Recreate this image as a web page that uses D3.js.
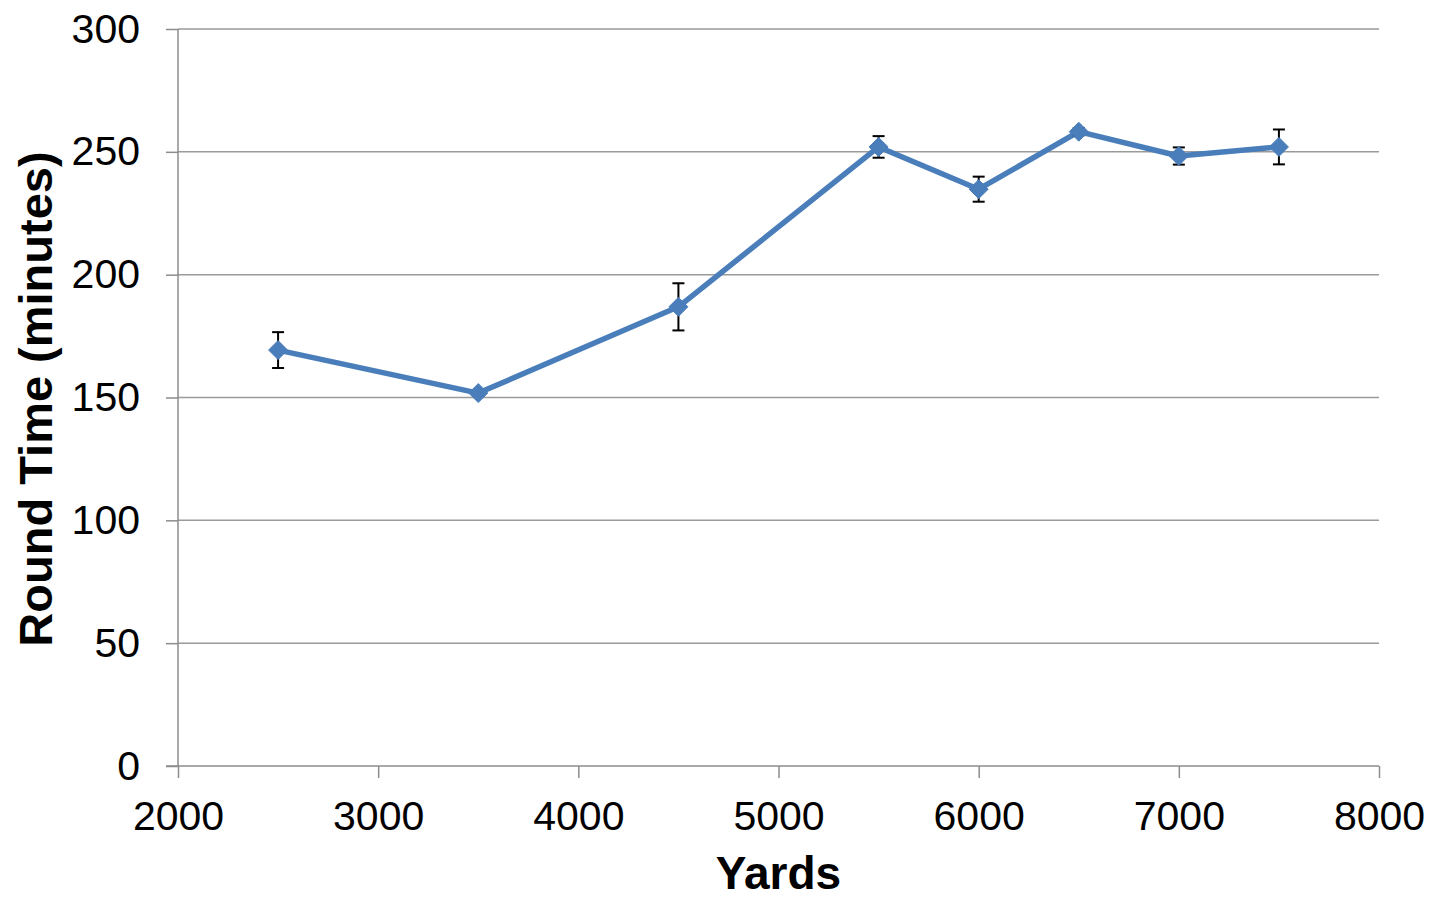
<!DOCTYPE html>
<html><head><meta charset="utf-8">
<script src="https://cdn.jsdelivr.net/npm/d3@7"></script>
<style>body{margin:0;background:#fff}svg{display:block}text{font-family:"Liberation Sans",Arial,sans-serif}</style>
</head><body>
<svg id="c" width="1432" height="898"></svg>
<script>
const yards = [2500, 3500, 4500, 5500, 6000, 6500, 7000, 7500];
const roundTime = [169.3, 151.8, 186.9, 252, 234.8, 258.2, 248.3, 252];
const errors = [7.3, 1, 9.6, 4.4, 5.1, 1.5, 3.5, 7.1];
const xTicks = [2000, 3000, 4000, 5000, 6000, 7000, 8000];
const yTicks = [0, 50, 100, 150, 200, 250, 300];
const xTitle = "Yards";
const yTitle = "Round Time (minutes)";

const svg = d3.select("#c");
const L = 178, R = 1379, T = 29, B = 766;
const x = d3.scaleLinear().domain([2000, 8000]).range([L, R]);
const y = d3.scaleLinear().domain([0, 300]).range([B, T]);

// gridlines
svg.append("g").selectAll("line").data(yTicks.filter(d => d > 0)).join("line")
  .attr("x1", L).attr("x2", R).attr("y1", d => y(d)).attr("y2", d => y(d))
  .attr("stroke", "#9a9a9a").attr("stroke-width", 1.5);

// y axis
const ya = svg.append("g").attr("transform", `translate(${L},0)`)
  .call(d3.axisLeft(y).tickValues(yTicks).tickSize(12).tickPadding(26));
ya.select(".domain").attr("stroke", "#8c8c8c").attr("stroke-width", 1.5).attr("d", `M0,${T}V${B}`);
ya.selectAll(".tick line").attr("stroke", "#8c8c8c").attr("stroke-width", 1.5);
ya.selectAll(".tick text").attr("font-size", 41).attr("fill", "#000").attr("font-family", "Liberation Sans, Arial, sans-serif");

// x axis
const xa = svg.append("g").attr("transform", `translate(0,${B})`)
  .call(d3.axisBottom(x).tickValues(xTicks).tickFormat(d3.format("d")).tickSize(12).tickPadding(23));
xa.select(".domain").attr("stroke", "#8c8c8c").attr("stroke-width", 1.5).attr("d", `M${L - 12},0H${R}`);
xa.selectAll(".tick line").attr("stroke", "#8c8c8c").attr("stroke-width", 1.5);
xa.selectAll(".tick text").attr("font-size", 41).attr("fill", "#000").attr("font-family", "Liberation Sans, Arial, sans-serif");

const data = yards.map((d, i) => ({x: d, y: roundTime[i], e: errors[i]}));

// line
svg.append("path").datum(data)
  .attr("d", d3.line().x(d => x(d.x)).y(d => y(d.y)))
  .attr("fill", "none").attr("stroke", "#4a7ebb").attr("stroke-width", 5.5).attr("stroke-linejoin", "round");

// error bars
const eb = svg.append("g").attr("stroke", "#000").attr("stroke-width", 2);
data.forEach(d => {
  const cx = x(d.x);
  eb.append("line").attr("x1", cx).attr("x2", cx).attr("y1", y(d.y - d.e)).attr("y2", y(d.y + d.e));
  eb.append("line").attr("x1", cx - 6).attr("x2", cx + 6).attr("y1", y(d.y - d.e)).attr("y2", y(d.y - d.e));
  eb.append("line").attr("x1", cx - 6).attr("x2", cx + 6).attr("y1", y(d.y + d.e)).attr("y2", y(d.y + d.e));
});

// markers
svg.append("g").selectAll("path").data(data).join("path")
  .attr("transform", d => `translate(${x(d.x)},${y(d.y)})`)
  .attr("d", "M0,-9.5L9.5,0L0,9.5L-9.5,0Z").attr("fill", "#4a7ebb").attr("stroke", "#4a7ebb").attr("stroke-width", 1);

// titles
svg.append("text").attr("x", (L + R) / 2).attr("y", 889).attr("text-anchor", "middle")
  .attr("font-size", 46).attr("font-weight", "bold").text(xTitle);
svg.append("text").attr("transform", `translate(52,399) rotate(-90)`).attr("text-anchor", "middle")
  .attr("font-size", 47).attr("font-weight", "bold").text(yTitle);
</script>
</body></html>
